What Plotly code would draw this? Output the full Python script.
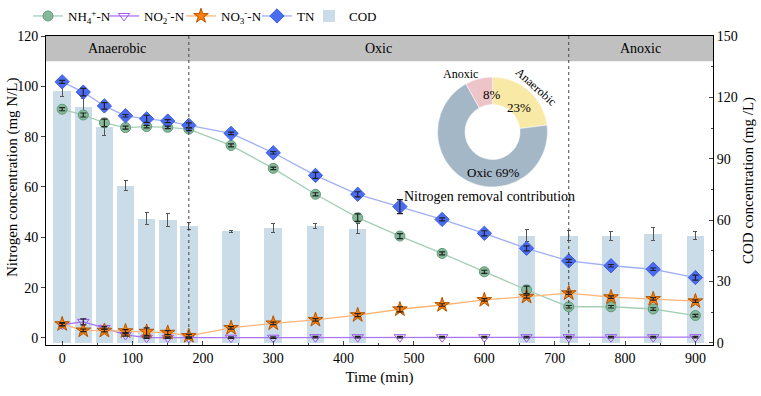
import plotly.graph_objects as go

# ---------------- data ----------------
time_n = [0, 30, 60, 90, 120, 150, 180, 240, 300, 360, 420, 480, 540, 600, 660, 720, 780, 840, 900]
nh4 = [90.9, 88.6, 85.5, 83.6, 84.0, 83.7, 83.0, 76.5, 67.4, 57.1, 47.8, 40.5, 33.6, 26.3, 19.1, 12.4, 12.4, 11.5, 8.9]
nh4_err = [0.6, 0.8, 1.5, 0.6, 0.5, 0.5, 0.6, 0.6, 0.5, 0.6, 1.5, 1.0, 0.6, 0.6, 1.5, 0.5, 0.5, 0.5, 0.5]
no2 = [5.3, 6.4, 4.0, 1.2, 0.1, 0.1, 0.1, 0.1, 0.1, 0.3, 0.3, 0.3, 0.3, 0.3, 0.3, 0.3, 0.3, 0.3, 0.3]
no2_err = [0.5, 1.2, 0.5, 0.5, 0.3, 0.3, 0.3, 0.3, 0.3, 0.3, 0.3, 0.3, 0.3, 0.3, 0.3, 0.3, 0.3, 0.3, 0.3]
no3 = [5.5, 3.0, 2.9, 2.7, 2.5, 2.1, 0.8, 4.0, 5.8, 7.2, 9.1, 11.4, 13.1, 15.1, 16.4, 17.8, 16.2, 15.5, 14.6]
no3_err = [0.6, 0.5, 0.5, 0.6, 1.5, 0.8, 0.6, 0.5, 0.5, 0.5, 0.6, 1.0, 0.5, 0.5, 0.6, 0.5, 0.5, 0.5, 0.5]
tn = [101.8, 97.7, 92.2, 88.3, 87.1, 86.2, 84.5, 81.3, 73.6, 64.6, 57.1, 52.2, 47.1, 41.6, 35.6, 30.6, 28.7, 27.3, 24.0]
tn_err = [0.6, 1.5, 1.3, 0.5, 1.4, 0.6, 1.0, 0.5, 0.5, 1.2, 1.0, 2.8, 0.6, 1.0, 1.0, 0.6, 0.5, 0.5, 1.0]

time_cod = [0, 30, 60, 90, 120, 150, 180, 240, 300, 360, 420, 660, 720, 780, 840, 900]
cod = [123.0, 115.4, 105.4, 76.8, 60.7, 60.2, 57.3, 54.5, 56.4, 57.3, 55.8, 52.5, 52.5, 52.3, 53.2, 52.5]
cod_err = [2.4, 4.0, 3.9, 2.4, 3.0, 3.2, 1.8, 0.3, 2.2, 1.3, 2.4, 2.9, 2.4, 2.4, 3.1, 1.9]

phase_names = ["Anaerobic", "Oxic", "Anoxic"]
phase_bounds = [-23, 180, 720, 925]
contrib_labels = ["Anaerobic", "Oxic", "Anoxic"]
contrib_values = [23, 69, 8]

xticks = [0, 100, 200, 300, 400, 500, 600, 700, 800, 900]

# ---------------- layout geometry (page pixels) ----------------
W, H = 761, 396
PL, PT, PR, PB = 46, 36, 713, 345          # plot area in page pixels
L, T, R, B = PL, PT, W - PR, H - PB
PW, PH = W - L - R, H - T - B


def px2paper(x, y):
    return (x - L) / PW, (H - B - y) / PH


FONT = "Liberation Serif"
fig = go.Figure()

# COD bars (primary y axis, shown on right side)
fig.add_trace(go.Bar(
    x=time_cod, y=cod, width=25, name="COD",
    marker=dict(color="#cbdce9", line=dict(width=0)),
    error_y=dict(type="data", array=cod_err, color="#555555", thickness=1, width=2),
    yaxis="y", legend="legend5",
))

series = [
    ("NH<sub>4</sub><sup>+</sup>-N", nh4, nh4_err, "circle", 10, "#86b99a", "#5f9a78", "#a3cfb4", "legend"),
    ("NO<sub>2</sub><sup>-</sup>-N", no2, no2_err, "triangle-down-open", 10, "#9d55f0", "#9d55f0", "#a874f2", "legend2"),
    ("NO<sub>3</sub><sup>-</sup>-N", no3, no3_err, "star", 11, "#ff7f0a", "#b35500", "#ffb474", "legend3"),
    ("TN", tn, tn_err, "diamond", 11, "#4b6cf0", "#3d5ce0", "#9fb0f7", "legend4"),
]
for name, vals, errs, sym, size, fill, edge, lc, lg in series:
    fig.add_trace(go.Scatter(
        x=time_n, y=vals, name=name, mode="lines+markers", yaxis="y2", legend=lg,
        line=dict(color=lc, width=1.3),
        marker=dict(symbol=sym, size=size, color=fill, line=dict(color=edge, width=1)),
    ))
# error bars on top of markers
for name, vals, errs, sym, size, fill, edge, lc, lg in series:
    fig.add_trace(go.Scatter(
        x=time_n, y=vals, mode="markers", yaxis="y2", showlegend=False,
        marker=dict(size=1, opacity=0),
        error_y=dict(type="data", array=errs, color="#222222", thickness=1.2, width=3),
        hoverinfo="skip",
    ))

# donut
dx0, dy0 = px2paper(437, 187)
dx1, dy1 = px2paper(548, 77)
fig.add_trace(go.Pie(
    labels=contrib_labels, values=contrib_values, hole=0.5, sort=False,
    direction="clockwise", rotation=0, textinfo="none", showlegend=False,
    marker=dict(colors=["#f9e9a6", "#a4b7c7", "#edc5c9"], line=dict(color="white", width=0.5)),
    domain=dict(x=[dx0, dx1], y=[dy0, dy1]),
))

shapes = [dict(type="rect", xref="paper", yref="y2", x0=0, x1=1, y0=110, y1=120,
               fillcolor="#c0c0c0", line=dict(width=0), layer="below")]
for xb in phase_bounds[1:-1]:
    shapes.append(dict(type="line", xref="x", yref="y2", x0=xb, x1=xb, y0=-2.8, y1=120,
                       line=dict(color="#444444", width=1, dash="dot"), layer="above"))

annotations = []
for i, nm in enumerate(phase_names):
    annotations.append(dict(x=(phase_bounds[i] + phase_bounds[i + 1]) / 2, y=115, xref="x", yref="y2",
                            xanchor="center", yanchor="middle",
                            text=nm, showarrow=False, font=dict(family=FONT, size=14, color="black")))

page_texts = [
    ("8%", 492, 94, 13, 0),
    ("23%", 519, 107, 13, 0),
    ("Oxic 69%", 493, 172, 13, 0),
    ("Anoxic", 460, 74, 12, 0),
    ("Anaerobic", 536, 87, 12, 42),
    ("Nitrogen removal contribution", 489, 196, 14, 0),
    ("Nitrogen concentration (mg N/L)", 12, 177, 15, -90),
    ("COD concentration (mg /L)", 748, 181, 15, -90),
]
for txt, x, y, s, ang in page_texts:
    xp, yp = px2paper(x, y)
    annotations.append(dict(x=xp, y=yp, xref="paper", yref="paper", text=txt, showarrow=False,
                            xanchor="center", yanchor="middle",
                            textangle=ang, font=dict(family=FONT, size=s, color="black")))

legend_style = dict(orientation="h", yanchor="middle", xanchor="left",
                    font=dict(family=FONT, size=13), bgcolor="rgba(0,0,0,0)",
                    itemwidth=30, borderwidth=0)
legend_page_x = [28, 104, 181, 257, 309]
_, ly = px2paper(0, 16)
legends = {}
for i, lx in enumerate(legend_page_x):
    key = "legend" if i == 0 else f"legend{i + 1}"
    legends[key] = dict(legend_style, x=px2paper(lx, 0)[0], y=ly)

fig.update_layout(
    width=W, height=H, margin=dict(l=L, r=R, t=T, b=B, autoexpand=False),
    paper_bgcolor="white", plot_bgcolor="white",
    font=dict(family=FONT, size=14, color="black"),
    bargap=0,
    showlegend=True,
    xaxis=dict(range=[-23, 925], tickvals=xticks, ticks="inside", ticklen=4, automargin=False,
               showline=True, linecolor="black", linewidth=1, mirror=True,
               showgrid=False, zeroline=False,
               minor=dict(ticks="inside", ticklen=2, dtick=50, tick0=0, showgrid=False),
               title=dict(text="Time (min)", font=dict(size=15), standoff=6),
               tickfont=dict(size=14)),
    yaxis=dict(range=[-1, 150], side="right", tickvals=[0, 30, 60, 90, 120, 150], automargin=False,
               ticks="inside", ticklen=4, showline=True, linecolor="black", linewidth=1,
               showgrid=False, zeroline=False,
               minor=dict(ticks="inside", ticklen=2, dtick=15, tick0=0),
               tickfont=dict(size=14)),
    yaxis2=dict(range=[-2.8, 120], side="left", overlaying="y", tickvals=[0, 20, 40, 60, 80, 100, 120],
                automargin=False,
                ticks="outside", ticklen=4, showline=True, linecolor="black", linewidth=1,
                showgrid=False, zeroline=False,
                tickfont=dict(size=14)),
    shapes=shapes, annotations=annotations,
    **legends,
)

# remove the default 8px page margin so the figure fills the window exactly
fig.write_html("out.html", config={"displayModeBar": False},
               post_script="document.body.style.margin='0px';")
